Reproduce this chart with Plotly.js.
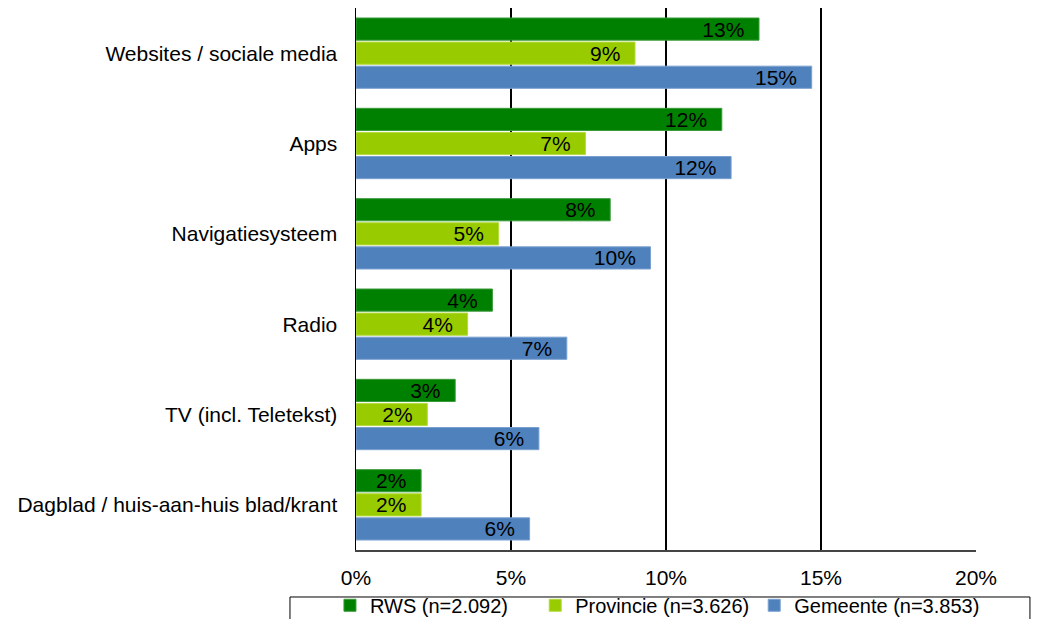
<!DOCTYPE html>
<html>
<head>
<meta charset="utf-8">
<script src="https://cdn.plot.ly/plotly-3.0.1.min.js"></script>
<style>html,body{margin:0;padding:0;background:#fff;}#chart{width:1039px;height:619px;}</style>
</head>
<body>
<div id="chart"></div>
<script>
const categories = ["Websites / sociale media", "Apps", "Navigatiesysteem", "Radio", "TV (incl. Teletekst)", "Dagblad / huis-aan-huis blad/krant"];
const seriesNames = ["RWS (n=2.092)", "Provincie (n=3.626)", "Gemeente (n=3.853)"];
const rwsValues = [13.0, 11.8, 8.2, 4.4, 3.2, 2.1];
const provincieValues = [9.0, 7.4, 4.6, 3.6, 2.3, 2.1];
const gemeenteValues = [14.7, 12.1, 9.5, 6.8, 5.9, 5.6];
const xTickValues = [0, 5, 10, 15, 20];
const xTickLabels = ["0%", "5%", "10%", "15%", "20%"];

const colors = ["#008000", "#99CC00", "#4F81BD"];
const edgeColors = ["#3a9a3a", "#b3da40", "#7aa0d0"];
const namePads = ["\u00A0\u00A0\u00A0\u00A0", "", ""];
const FONT = "Liberation Sans, Arial, sans-serif";
const pad = "\u00A0\u00A0";

function mk(vals, i) {
  return {
    type: "bar", orientation: "h",
    name: seriesNames[i] + namePads[i],
    y: categories, x: vals,
    text: vals.map(v => Math.round(v) + "%" + pad),
    textposition: "inside", insidetextanchor: "end", constraintext: "none",
    textfont: {family: FONT, size: 21, color: "#000"},
    marker: {color: colors[i], line: {color: edgeColors[i], width: 1}},
    hoverinfo: "skip"
  };
}
const data = [mk(rwsValues, 0), mk(provincieValues, 1), mk(gemeenteValues, 2)];

const layout = {
  width: 1039, height: 619,
  margin: {l: 356, r: 63, t: 8, b: 69, autoexpand: false},
  paper_bgcolor: "#fff", plot_bgcolor: "#fff",
  font: {family: FONT, size: 20, color: "#000"},
  barmode: "group", bargap: 0.2, bargroupgap: 0.08,
  xaxis: {
    range: [0, 20], tickvals: xTickValues, ticktext: xTickLabels,
    showgrid: true, gridcolor: "#000", gridwidth: 1.2,
    zeroline: false, showline: true, linecolor: "#444", linewidth: 1.5,
    ticks: "outside", ticklen: 8, tickcolor: "rgba(0,0,0,0)",
    tickfont: {size: 21}, fixedrange: true
  },
  yaxis: {
    autorange: "reversed", type: "category",
    showgrid: false, zeroline: false, showline: true, linecolor: "#000", linewidth: 1.5,
    ticks: "outside", ticklen: 13, tickcolor: "rgba(0,0,0,0)",
    tickfont: {size: 21}, fixedrange: true
  },
  showlegend: true,
  legend: {
    orientation: "h", x: -0.042, xanchor: "left", y: -0.066, yanchor: "top",
    font: {size: 20}, bgcolor: "rgba(0,0,0,0)", borderwidth: 0,
    traceorder: "normal"
  },
  shapes: [{
    type: "rect", xref: "paper", yref: "paper",
    x0: -0.1065, x1: 1.087, y0: -0.0867, y1: -0.15,
    line: {color: "#000", width: 1}, fillcolor: "rgba(0,0,0,0)", layer: "below"
  }]
};

Plotly.newPlot("chart", data, layout, {displayModeBar: false, staticPlot: true});
</script>
</body>
</html>
